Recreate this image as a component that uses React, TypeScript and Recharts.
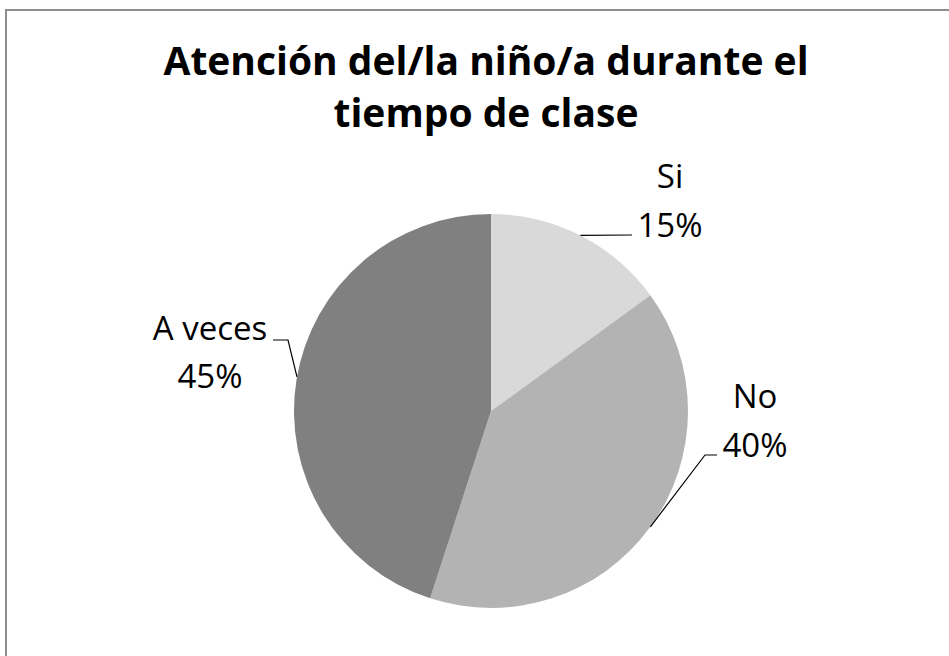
import React from 'react';
import { PieChart, Pie, Cell } from 'recharts';

const categories = ['Si', 'No', 'A veces'];
const values = [15, 40, 45];
const colors = ['#d9d9d9', '#b3b3b3', '#808080'];
const titleLines = ['Atención del/la niño/a durante el', 'tiempo de clase'];

const data = categories.map((name, i) => ({ name, value: values[i] }));

// label placement relative to the pie centre (leader anchor angle, elbow, text)
const labelLayout = [
  { angle: null, elbow: null, end: [141, -176], tx: 179, ty: [-223, -174] },
  { angle: null, elbow: [214, 44], end: [226, 44], tx: 264, ty: [-3, 46] },
  { angle: 170, elbow: [-203, -71], end: [-218, -71], tx: -281, ty: [-71, -23] },
];

const RAD = Math.PI / 180;

const renderLabel = (props: any) => {
  const { cx, cy, midAngle, outerRadius, index, name, percent } = props;
  const l = labelLayout[index];
  const a = (l.angle ?? midAngle) * RAD;
  const sx = cx + outerRadius * Math.cos(a);
  const sy = cy - outerRadius * Math.sin(a);
  const pts = [[sx, sy]];
  if (l.elbow) pts.push([cx + l.elbow[0], cy + l.elbow[1]]);
  pts.push([cx + l.end[0], cy + l.end[1]]);
  return (
    <g key={`lbl-${index}`}>
      <polyline
        points={pts.map(p => p.join(',')).join(' ')}
        fill="none"
        stroke="#000"
        strokeWidth={1.2}
      />
      <text
        x={cx + l.tx}
        y={cy + l.ty[0]}
        textAnchor="middle"
        fontFamily="'Open Sans', sans-serif"
        fontSize={33}
        fill="#000"
      >
        {name}
      </text>
      <text
        x={cx + l.tx}
        y={cy + l.ty[1]}
        textAnchor="middle"
        fontFamily="'Open Sans', sans-serif"
        fontSize={33}
        fill="#000"
      >
        {`${Math.round(percent * 100)}%`}
      </text>
    </g>
  );
};

export default function App() {
  return (
    <div
      style={{
        position: 'fixed',
        left: 0,
        top: 0,
        width: 949,
        height: 656,
        overflow: 'hidden',
        background: '#fff',
      }}
    >
      <div
        style={{
          position: 'absolute',
          left: 5,
          top: 9,
          width: 2000,
          height: 2000,
          border: '2px solid #8e8e8e',
        }}
      />
      <svg
        width={949}
        height={160}
        style={{ position: 'absolute', left: 0, top: 0 }}
      >
        {titleLines.map((t, i) => (
          <text
            key={t}
            x={486}
            y={75 + i * 52}
            textAnchor="middle"
            fontFamily="'Open Sans', sans-serif"
            fontWeight="bold"
            fontSize={39}
            fill="#000"
          >
            {t}
          </text>
        ))}
      </svg>
      <div style={{ position: 'absolute', left: 0, top: 0 }}>
        <PieChart width={949} height={656}>
          <Pie
            data={data}
            dataKey="value"
            nameKey="name"
            cx={486}
            cy={406}
            outerRadius={197}
            startAngle={90}
            endAngle={-270}
            stroke="none"
            label={renderLabel}
            labelLine={false}
            isAnimationActive={false}
          >
            {data.map((d, i) => (
              <Cell key={d.name} fill={colors[i]} />
            ))}
          </Pie>
        </PieChart>
      </div>
    </div>
  );
}
